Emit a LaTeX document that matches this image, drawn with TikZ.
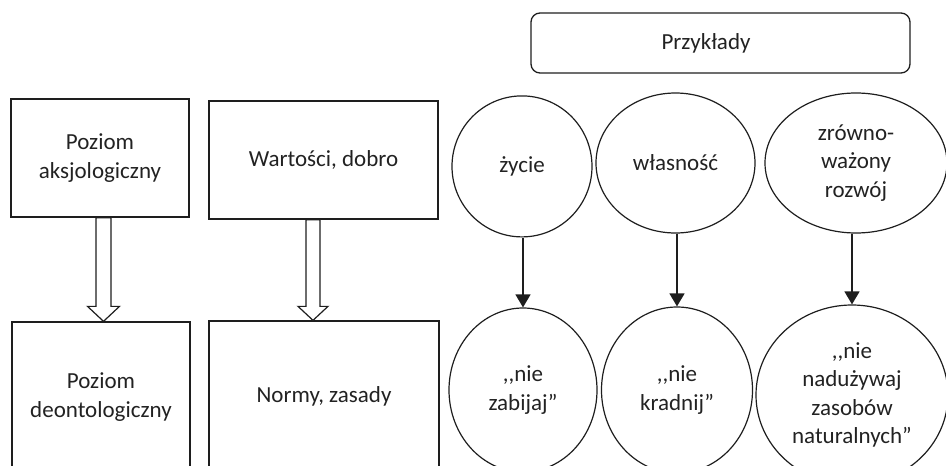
\documentclass[tikz,border=0pt]{standalone}
\usepackage{fontspec}
\setmainfont{Carlito}
\usetikzlibrary{shapes.geometric,arrows.meta,calc}
\definecolor{ink}{HTML}{1E1E1E}
\definecolor{txt}{HTML}{222222}
\begin{document}
\begin{tikzpicture}[x=1pt,y=-1pt,
  every node/.style={font=\fontsize{23}{28.5}\selectfont, text=txt, align=center},
  levelbox/.style={draw=ink, line width=1.3pt, rectangle, inner sep=0pt},
  oval/.style={draw=ink, line width=1.2pt, ellipse, inner sep=0pt},
  thinarrow/.style={draw=ink, line width=1.5pt, -{Triangle[length=13pt,width=15pt]}},
  hollowarrow/.style={draw=ink, line width=1.2pt, fill=white, line join=miter}
]
\clip (0,0) rectangle (946,466);

% left column: levels
\node[levelbox, minimum width=178pt, minimum height=118pt] (b1) at (100,158) {Poziom\\aksjologiczny};
\node[levelbox, minimum width=178pt, minimum height=150pt] (b3) at (101,397) {Poziom\\deontologiczny};
% middle column
\node[levelbox, minimum width=229pt, minimum height=118pt] (b2) at (323.5,160) {Wartości, dobro};
\node[levelbox, minimum width=230pt, minimum height=150pt] (b4) at (324,396) {Normy, zasady};

% hollow block arrows between the levels
\path let \p1=(b1.south), \p2=(b3.north) in
  [hollowarrow] (\x1+3.5-7.5,\y1) -- (\x1+3.5-7.5,\y2+15) -- (\x1+3.5-16,\y2+15)
  -- (\x1+3.5,\y2) -- (\x1+3.5+16,\y2+15) -- (\x1+3.5+7.5,\y2+15) -- (\x1+3.5+7.5,\y1) -- cycle;
\path let \p1=(b2.south), \p2=(b4.north) in
  [hollowarrow] (\x1-10.5-7,\y1) -- (\x1-10.5-7,\y2+14) -- (\x1-10.5-15,\y2+14)
  -- (\x1-10.5,\y2) -- (\x1-10.5+15,\y2+14) -- (\x1-10.5+7,\y2+14) -- (\x1-10.5+7,\y1) -- cycle;

% examples header
\node[draw=ink, line width=1.3pt, rounded corners=9pt, minimum width=379pt, minimum height=60pt] (hdr) at (720.5,43) {};
\node (hdrtxt) at (706,43) {Przykłady};

% values
\node[oval, minimum width=140pt, minimum height=141pt] (c1) at (522,166.4) {życie};
\node[oval, minimum width=159pt, minimum height=140pt] (c2) at (675.5,163) {własność};
\node[oval, minimum width=182pt, minimum height=140pt] (c3) at (856,163) {zrówno-\\ważony\\rozwój};

% norms
\node[oval, minimum width=148pt, minimum height=164pt] (d1) at (523,390) {,{},nie\\zabijaj”};
\node[oval, minimum width=151pt, minimum height=166pt] (d2) at (677,390) {,{},nie\\kradnij”};
\node[oval, minimum width=192pt, minimum height=180pt] (d3) at (852,395) {,{},nie\\nadużywaj\\zasobów\\naturalnych”};

% value -> norm
\draw[thinarrow] (d1.north |- c1.south) -- (d1.north);
\draw[thinarrow] (d2.north |- c2.south) -- (d2.north);
\draw[thinarrow] (d3.north |- c3.south) -- (d3.north);
\end{tikzpicture}
\end{document}
